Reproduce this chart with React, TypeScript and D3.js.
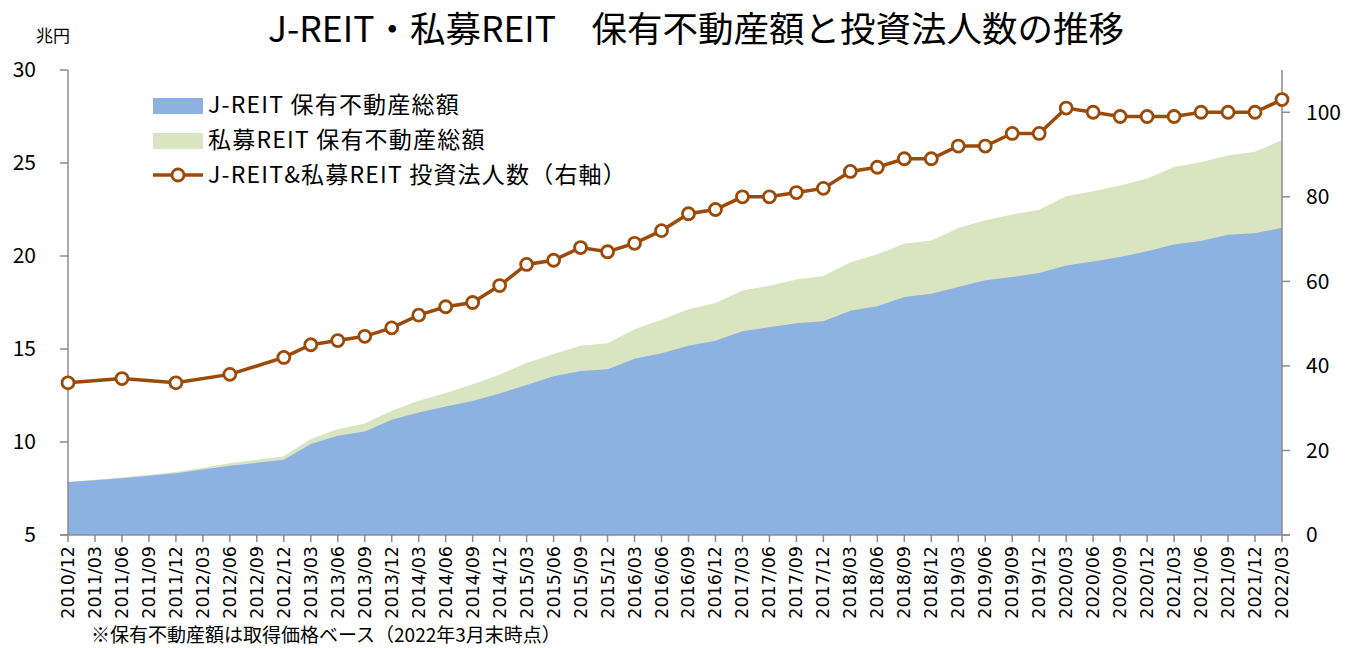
import { useMemo } from "react";
import * as d3 from "d3";

// ── Data ────────────────────────────────────────────────────────────────
const QUARTERS = [
  "2010/12",
  "2011/03", "2011/06", "2011/09", "2011/12",
  "2012/03", "2012/06", "2012/09", "2012/12",
  "2013/03", "2013/06", "2013/09", "2013/12",
  "2014/03", "2014/06", "2014/09", "2014/12",
  "2015/03", "2015/06", "2015/09", "2015/12",
  "2016/03", "2016/06", "2016/09", "2016/12",
  "2017/03", "2017/06", "2017/09", "2017/12",
  "2018/03", "2018/06", "2018/09", "2018/12",
  "2019/03", "2019/06", "2019/09", "2019/12",
  "2020/03", "2020/06", "2020/09", "2020/12",
  "2021/03", "2021/06", "2021/09", "2021/12",
  "2022/03",
];

// J-REIT holdings (兆円)
const JREIT = [
  7.85,
  7.95, 8.05, 8.18, 8.32,
  8.52, 8.72, 8.88, 9.04,
  9.89, 10.33, 10.57, 11.2,
  11.59, 11.91, 12.2, 12.61,
  13.06, 13.53, 13.82, 13.91,
  14.47, 14.77, 15.18, 15.45,
  15.95, 16.17, 16.38, 16.49,
  17.05, 17.3, 17.79, 17.97,
  18.33, 18.69, 18.87, 19.08,
  19.49, 19.71, 19.94, 20.26,
  20.62, 20.8, 21.14, 21.22,
  21.52,
];

// 私募REIT holdings (兆円), stacked on J-REIT
const PRIVATE = [
  0.0,
  0.02, 0.04, 0.06, 0.07,
  0.1, 0.14, 0.17, 0.2,
  0.27, 0.36, 0.43, 0.48,
  0.63, 0.72, 0.91, 1.01,
  1.19, 1.2, 1.36, 1.4,
  1.59, 1.8, 1.96, 2.02,
  2.2, 2.23, 2.36, 2.43,
  2.62, 2.79, 2.87, 2.87,
  3.17, 3.23, 3.36, 3.41,
  3.72, 3.77, 3.85, 3.9,
  4.17, 4.26, 4.26, 4.38,
  4.71,
];

// 投資法人数 (right axis); null = not reported that quarter
const COUNT: (number | null)[] = [
  36,
  null, 37, null, 36,
  null, 38, null, 42,
  45, 46, 47, 49,
  52, 54, 55, 59,
  64, 65, 68, 67,
  69, 72, 76, 77,
  80, 80, 81, 82,
  86, 87, 89, 89,
  92, 92, 95, 95,
  101, 100, 99, 99,
  99, 100, 100, 100,
  103,
];

const LEFT_TICKS = [5, 10, 15, 20, 25, 30];
const RIGHT_TICKS = [0, 20, 40, 60, 80, 100];

const TITLE = "J-REIT・私募REIT\u3000保有不動産額と投資法人数の推移";
const LEGEND = [
  "J-REIT 保有不動産総額",
  "私募REIT 保有不動産総額",
  "J-REIT&私募REIT 投資法人数（右軸）",
];
const NOTE = "※保有不動産額は取得価格ベース（2022年3月末時点）";

// ── Layout ──────────────────────────────────────────────────────────────
const W = 1349;
const H = 648;
const PLOT = { left: 68, right: 1282, top: 70, bottom: 535 };

const BLUE = "#8db1e1";
const GREEN = "#d9e4c1";
const BROWN = "#9c4a07";
const AXIS = "#8c8c8c";
const FONT = "'Noto Sans CJK JP', 'Noto Sans', sans-serif";
const NUM_FONT = "'DejaVu Sans', Verdana, sans-serif";

export default function App() {
  const x = useMemo(
    () =>
      d3
        .scalePoint<string>()
        .domain(QUARTERS)
        .range([PLOT.left, PLOT.right]),
    []
  );
  const yL = d3.scaleLinear().domain([5, 30]).range([PLOT.bottom, PLOT.top]);
  const yR = d3.scaleLinear().domain([0, 110]).range([PLOT.bottom, PLOT.top]);

  const rows = QUARTERS.map((q, i) => ({
    q,
    j: JREIT[i],
    total: JREIT[i] + PRIVATE[i],
  }));

  const areaJ = d3
    .area<(typeof rows)[number]>()
    .x((d) => x(d.q)!)
    .y0(yL(5))
    .y1((d) => yL(d.j))(rows);

  const areaTotal = d3
    .area<(typeof rows)[number]>()
    .x((d) => x(d.q)!)
    .y0(yL(5))
    .y1((d) => yL(d.total))(rows);

  const pts = QUARTERS.map((q, i) => ({ q, v: COUNT[i] })).filter(
    (d) => d.v != null
  ) as { q: string; v: number }[];

  const linePath = d3
    .line<{ q: string; v: number }>()
    .x((d) => x(d.q)!)
    .y((d) => yR(d.v))(pts);

  return (
    <svg
      width={W}
      height={H}
      style={{ display: "block", position: "absolute", left: 0, top: 0 }}
    >
      <rect width={W} height={H} fill="#fff" />

      {/* Title */}
      <text
        x={696}
        y={42}
        textAnchor="middle"
        fontFamily={FONT}
        fontSize={35.5}
        fill="#000"
      >
        {TITLE}
      </text>
      <text x={36} y={42} fontFamily={FONT} fontSize={17} fill="#000">
        兆円
      </text>

      {/* Areas */}
      <path d={areaTotal ?? ""} fill={GREEN} />
      <path d={areaJ ?? ""} fill={BLUE} />

      {/* Left axis */}
      <line
        x1={PLOT.left}
        x2={PLOT.left}
        y1={PLOT.top}
        y2={PLOT.bottom}
        stroke={AXIS}
        strokeWidth={1.5}
      />
      {LEFT_TICKS.map((t) => (
        <g key={t}>
          <line
            x1={PLOT.left - 8}
            x2={PLOT.left}
            y1={yL(t)}
            y2={yL(t)}
            stroke={AXIS}
            strokeWidth={1.5}
          />
          <text
            x={36}
            y={yL(t)}
            dy="0.35em"
            textAnchor="end"
            fontFamily={FONT}
            fontSize={21}
            fill="#000"
          >
            {t}
          </text>
        </g>
      ))}

      {/* Right axis */}
      <line
        x1={PLOT.right}
        x2={PLOT.right}
        y1={PLOT.top}
        y2={PLOT.bottom}
        stroke={AXIS}
        strokeWidth={1.5}
      />
      {RIGHT_TICKS.map((t) => (
        <g key={t}>
          <line
            x1={PLOT.right}
            x2={PLOT.right + 8}
            y1={yR(t)}
            y2={yR(t)}
            stroke={AXIS}
            strokeWidth={1.5}
          />
          <text
            x={1306}
            y={yR(t)}
            dy="0.35em"
            fontFamily={FONT}
            fontSize={21}
            fill="#000"
          >
            {t}
          </text>
        </g>
      ))}

      {/* Bottom axis */}
      <line
        x1={PLOT.left - 8}
        x2={PLOT.right + 8}
        y1={PLOT.bottom}
        y2={PLOT.bottom}
        stroke={AXIS}
        strokeWidth={1.5}
      />
      {QUARTERS.map((q) => (
        <g key={q}>
          <line
            x1={x(q)}
            x2={x(q)}
            y1={PLOT.bottom}
            y2={PLOT.bottom + 7}
            stroke={AXIS}
            strokeWidth={1.5}
          />
          <text
            transform={`translate(${x(q)! + 6},${PLOT.bottom + 11}) rotate(-90)`}
            textAnchor="end"
            fontFamily={NUM_FONT}
            fontSize={17.5}
            fill="#000"
          >
            {q}
          </text>
        </g>
      ))}

      {/* Count line */}
      <path d={linePath ?? ""} fill="none" stroke={BROWN} strokeWidth={3.5} />
      {pts.map((d) => (
        <circle
          key={d.q}
          cx={x(d.q)}
          cy={yR(d.v)}
          r={6}
          fill="#fff"
          stroke={BROWN}
          strokeWidth={2.8}
        />
      ))}

      {/* Legend */}
      <rect x={153} y={98} width={50} height={16} fill={BLUE} />
      <text
        x={208}
        y={113}
        fontFamily={FONT}
        fontSize={23}
        letterSpacing={1.2}
        fill="#000"
      >
        {LEGEND[0]}
      </text>
      <rect x={153} y={133} width={50} height={16} fill={GREEN} />
      <text
        x={208}
        y={148}
        fontFamily={FONT}
        fontSize={23}
        letterSpacing={1.2}
        fill="#000"
      >
        {LEGEND[1]}
      </text>
      <line
        x1={153}
        x2={203}
        y1={175}
        y2={175}
        stroke={BROWN}
        strokeWidth={3.5}
      />
      <circle cx={178} cy={175} r={6} fill="#fff" stroke={BROWN} strokeWidth={2.8} />
      <text
        x={208}
        y={183}
        fontFamily={FONT}
        fontSize={23}
        letterSpacing={1.2}
        fill="#000"
      >
        {LEGEND[2]}
      </text>

      {/* Footnote */}
      <text x={91} y={642} fontFamily={FONT} fontSize={19} fill="#000">
        {NOTE}
      </text>
    </svg>
  );
}
